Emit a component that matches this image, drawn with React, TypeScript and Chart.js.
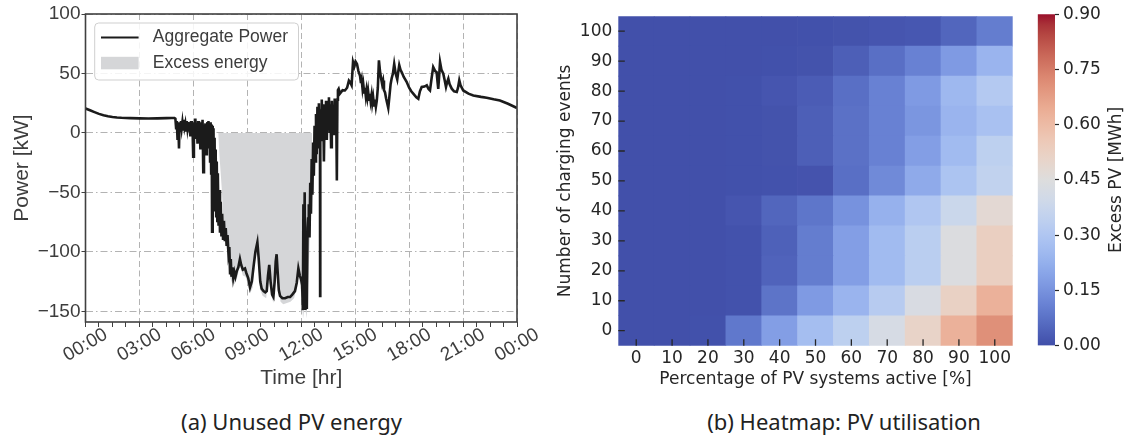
import React, { useEffect, useRef } from 'react';
import { Chart, registerables } from 'chart.js';

Chart.register(...registerables);

// ================= (a) Unused PV energy =================
const hourTicks = [0, 3, 6, 9, 12, 15, 18, 21, 24];
const hourLabels = ['00:00', '03:00', '06:00', '09:00', '12:00', '15:00', '18:00', '21:00', '00:00'];
const minorHourTicks = [0, 0.75, 1.5, 2.25, 3, 3.75, 4.5, 5.25, 6, 6.75, 7.5, 8.25, 9, 9.75, 10.5, 11.25, 12,
  12.75, 13.5, 14.25, 15, 15.75, 16.5, 17.25, 18, 18.75, 19.5, 20.25, 21, 21.75, 22.5, 23.25, 24];
const powerTicks = [-150, -100, -50, 0, 50, 100];

// Aggregate power [kW] against time [h], read segment by segment as [hour, kW]
const powerNight: [number, number][] = [
  [0, 20.5], [0.25, 19], [0.5, 17.5], [0.75, 16], [1, 14.8], [1.25, 14], [1.5, 13.4], [1.75, 13], [2, 12.7],
  [2.5, 12.4], [3, 12.2], [3.5, 12.1], [4, 12.2], [4.5, 12.4], [4.8, 12.6], [4.95, 12.5],
];
const powerDawn: [number, number][] = [
  [5.0, 12], [5.04, 4], [5.08, 10], [5.12, -6], [5.16, 9], [5.2, -13], [5.23, 8], [5.27, 2], [5.31, 10], [5.35, 4],
  [5.39, 9], [5.43, 3], [5.47, 11], [5.51, 5], [5.55, 8], [5.59, 2], [5.63, 10], [5.67, 4], [5.71, 9], [5.75, 1],
  [5.79, 8], [5.83, -3], [5.87, 10], [5.91, 2], [5.95, 7], [5.99, -20], [6.03, 9], [6.07, 0], [6.11, 12], [6.15, -4],
  [6.19, 8], [6.23, -9], [6.27, 10], [6.31, -2], [6.35, 6], [6.39, -14], [6.43, 9], [6.47, -6], [6.51, 11], [6.55, -33],
  [6.59, 7], [6.63, -10], [6.67, 8], [6.71, -18], [6.75, 5],
];
const powerDrop: [number, number][] = [
  [6.78, 9], [6.81, -2], [6.84, 10], [6.87, -12], [6.9, 8], [6.93, -24], [6.96, 9], [6.99, -34], [7.02, 7], [7.04, -83],
  [7.06, 6], [7.09, -46], [7.12, 4], [7.15, -60], [7.18, -4], [7.21, -65], [7.24, -14], [7.27, -70], [7.3, -24],
  [7.33, -74], [7.36, -34], [7.4, -78], [7.44, -48], [7.48, -84], [7.52, -58], [7.56, -87], [7.6, -68], [7.65, -89],
  [7.7, -74], [7.75, -91], [7.8, -80], [7.85, -95], [7.9, -86], [7.95, -101], [8.0, -96], [8.04, -118], [8.08, -106],
  [8.12, -121], [8.17, -113], [8.22, -122], [8.28, -117], [8.34, -121], [8.42, -116], [8.5, -113],
];
const powerMidday: [number, number][] = [
  [8.59, -106], [8.66, -111], [8.75, -115], [8.87, -114], [8.95, -118], [9.05, -122], [9.15, -130], [9.25, -125],
  [9.35, -112], [9.45, -100], [9.56, -92], [9.63, -105], [9.72, -125], [9.8, -131], [9.9, -133], [10.0, -134],
  [10.08, -133], [10.15, -120], [10.22, -111], [10.3, -126], [10.38, -136], [10.45, -138], [10.52, -125],
  [10.58, -108], [10.63, -102], [10.68, -115], [10.75, -132], [10.82, -137], [10.95, -139], [11.1, -139],
  [11.25, -138], [11.38, -138], [11.5, -136], [11.65, -133], [11.75, -126], [11.84, -114], [11.92, -120],
  [11.99, -123], [12.05, -128], [12.09, -149], [12.12, -60], [12.15, -140], [12.19, -50], [12.23, -149],
  [12.27, -85], [12.31, -148], [12.35, -80], [12.38, -72],
];
const powerRecovery: [number, number][] = [
  [12.42, -60], [12.46, -88], [12.5, -42], [12.54, -68], [12.58, -22], [12.62, -52], [12.66, -8], [12.7, -36],
  [12.74, 6], [12.78, -24], [12.82, 16], [12.86, -18], [12.9, 22], [12.94, -12], [12.98, 25], [13.02, -4],
  [13.04, 20], [13.05, -137], [13.06, 18], [13.1, -6], [13.14, 28], [13.18, 2], [13.22, 24], [13.26, -24],
  [13.3, 21], [13.34, 4], [13.38, 27], [13.42, -6], [13.46, 25], [13.5, 8], [13.54, 30], [13.58, 0], [13.62, 24],
  [13.66, -12], [13.7, 27], [13.74, 6], [13.78, 23], [13.82, -2], [13.86, 29], [13.9, 8], [13.94, 26],
  [13.98, -40], [14.01, 28], [14.04, 36],
];
const powerAfternoon: [number, number][] = [
  [14.08, 37], [14.15, 33], [14.3, 36], [14.43, 35.7], [14.55, 38], [14.65, 44], [14.71, 42.8], [14.8, 40],
  [14.88, 59.6], [14.95, 56], [15.02, 60], [15.1, 58], [15.18, 52], [15.27, 48], [15.32, 42], [15.36, 45],
  [15.41, 37], [15.45, 41], [15.5, 34], [15.54, 38], [15.59, 31], [15.63, 36], [15.68, 30], [15.72, 35],
  [15.77, 28], [15.82, 33], [15.86, 27], [15.91, 32], [15.95, 25], [16.0, 30], [16.05, 23], [16.1, 28],
  [16.15, 22], [16.2, 27], [16.26, 38], [16.32, 61], [16.38, 52], [16.44, 46], [16.5, 41], [16.55, 44],
  [16.6, 36], [16.66, 34], [16.72, 29], [16.78, 25], [16.84, 21], [16.9, 30], [16.97, 41], [17.03, 46],
  [17.1, 50], [17.17, 58], [17.25, 50], [17.34, 45], [17.4, 52], [17.45, 57], [17.52, 53], [17.59, 51],
  [17.7, 47], [17.86, 43], [18.0, 38], [18.12, 35], [18.23, 33], [18.4, 30], [18.51, 28.8], [18.6, 35],
  [18.7, 38.6], [18.85, 39], [18.98, 40], [19.08, 37], [19.16, 35.7], [19.25, 46], [19.34, 55.4], [19.45, 52],
  [19.53, 51], [19.58, 43], [19.62, 37], [19.67, 48], [19.72, 59.6], [19.8, 53], [19.9, 49.8], [19.98, 44],
  [20.05, 38.6], [20.12, 43], [20.18, 45.6], [20.25, 41], [20.37, 37.2], [20.5, 35], [20.65, 34.4], [20.72, 38],
  [20.79, 44.2], [20.86, 40], [21.01, 35.7], [21.3, 33], [21.57, 31.5], [22.0, 30.3], [22.31, 29.6], [22.7, 28.3],
  [23.05, 27.3], [23.5, 24.5], [24.0, 21],
];
// Excess PV energy (lower envelope of the grey area) [hour, kW]
const excessEnergy: [number, number][] = [
  [7.38, 0], [7.45, -19], [7.58, -47], [7.66, -72], [7.78, -92], [7.9, -100], [8.0, -108], [8.05, -122],
  [8.15, -126], [8.3, -127], [8.45, -121], [8.59, -111], [8.75, -120], [8.9, -121], [9.05, -128], [9.15, -135],
  [9.3, -130], [9.45, -106], [9.56, -97], [9.7, -131], [9.85, -137], [10.05, -139], [10.15, -124], [10.22, -116],
  [10.35, -138], [10.45, -143], [10.55, -128], [10.63, -107], [10.72, -130], [10.85, -142], [11.0, -144],
  [11.2, -143], [11.4, -142], [11.6, -139], [11.75, -130], [11.84, -120], [11.95, -128], [12.1, -156],
  [12.2, -145], [12.3, -156], [12.4, -120], [12.5, -80], [12.56, -45], [12.6, -10], [12.6, 0],
];

// ================= (b) Heatmap: PV utilisation =================
const pvShareLabels = ['0', '10', '20', '30', '40', '50', '60', '70', '80', '90', '100'];
const chargingEvents = [0, 10, 20, 30, 40, 50, 60, 70, 80, 90, 100];
const colorbarTicks = [0, 0.15, 0.3, 0.45, 0.6, 0.75, 0.9];
const CMAX = 0.9;
// Excess PV [MWh] per number of charging events, across PV share 0..100 %
const excessEv0 = [0.005, 0.005, 0.006, 0.09, 0.18, 0.27, 0.34, 0.42, 0.51, 0.63, 0.71];
const excessEv10 = [0.005, 0.005, 0.005, 0.008, 0.08, 0.17, 0.24, 0.32, 0.43, 0.52, 0.63];
const excessEv20 = [0.005, 0.005, 0.005, 0.008, 0.045, 0.1, 0.18, 0.26, 0.33, 0.44, 0.53];
const excessEv30 = [0.005, 0.005, 0.005, 0.008, 0.04, 0.1, 0.18, 0.26, 0.33, 0.44, 0.53];
const excessEv40 = [0.005, 0.005, 0.005, 0.015, 0.05, 0.085, 0.15, 0.23, 0.3, 0.38, 0.48];
const excessEv50 = [0.005, 0.005, 0.005, 0.006, 0.008, 0.012, 0.07, 0.13, 0.21, 0.29, 0.35];
const excessEv60 = [0.005, 0.005, 0.005, 0.006, 0.01, 0.035, 0.075, 0.11, 0.18, 0.26, 0.34];
const excessEv70 = [0.005, 0.005, 0.005, 0.006, 0.01, 0.035, 0.075, 0.11, 0.16, 0.24, 0.28];
const excessEv80 = [0.005, 0.005, 0.005, 0.006, 0.015, 0.03, 0.07, 0.11, 0.17, 0.25, 0.31];
const excessEv90 = [0.005, 0.005, 0.005, 0.005, 0.006, 0.01, 0.035, 0.07, 0.11, 0.17, 0.24];
const excessEv100 = [0.005, 0.005, 0.005, 0.005, 0.005, 0.006, 0.01, 0.015, 0.02, 0.05, 0.1];
const excessRows = [excessEv0, excessEv10, excessEv20, excessEv30, excessEv40, excessEv50,
  excessEv60, excessEv70, excessEv80, excessEv90, excessEv100];

// coolwarm colormap anchors
const COOLWARM = [
  [59, 76, 192], [68, 90, 204], [77, 104, 215], [87, 117, 225], [98, 130, 234], [108, 142, 241], [119, 154, 247],
  [130, 165, 251], [141, 176, 254], [152, 185, 255], [163, 194, 255], [174, 201, 253], [184, 208, 249],
  [194, 213, 244], [204, 217, 238], [213, 219, 230], [221, 221, 221], [229, 216, 209], [236, 211, 197],
  [241, 204, 185], [245, 196, 173], [247, 187, 160], [247, 177, 148], [247, 166, 135], [244, 154, 123],
  [241, 141, 111], [236, 127, 99], [229, 112, 88], [222, 96, 77], [213, 80, 66], [203, 62, 56], [192, 40, 47],
  [180, 4, 38],
];

function cmap(t: number): string {
  const tt = Math.min(1, Math.max(0, t));
  const n = COOLWARM.length - 1;
  const f = tt * n;
  const i = Math.min(n - 1, Math.floor(f));
  const u = f - i;
  const a = COOLWARM[i];
  const b = COOLWARM[i + 1];
  let r = a[0] + (b[0] - a[0]) * u;
  let g = a[1] + (b[1] - a[1]) * u;
  let bl = a[2] + (b[2] - a[2]) * u;
  const lum = 0.3 * r + 0.59 * g + 0.11 * bl;
  const k = 0.22;
  r = r * (1 - k) + lum * k;
  g = g * (1 - k) + lum * k;
  bl = bl * (1 - k) + lum * k;
  return `rgb(${Math.round(r)},${Math.round(g)},${Math.round(bl)})`;
}

const FONT_A = '"Liberation Sans", Arial, Helvetica, sans-serif';
const FONT_B = '"DejaVu Sans", sans-serif';
const TXT_A = '#3d3d3d';
const TXT_B = '#262626';
const GRID_A = '#b3b3b3';

const isMajorHour = (v: number | undefined) =>
  v !== undefined && Math.abs(v / 3 - Math.round(v / 3)) < 1e-6;

const framePlugin = {
  id: 'frame',
  afterDatasetsDraw(chart: any) {
    const { ctx, chartArea: a } = chart;
    ctx.save();
    ctx.strokeStyle = '#404040';
    ctx.lineWidth = 1.6;
    ctx.strokeRect(a.left, a.top, a.right - a.left, a.bottom - a.top);
    ctx.restore();
  },
};

const timeLabelPlugin = {
  id: 'timeLabels',
  afterDraw(chart: any) {
    const { ctx, chartArea, scales } = chart;
    ctx.save();
    ctx.font = `19px ${FONT_A}`;
    ctx.fillStyle = TXT_A;
    ctx.textAlign = 'center';
    ctx.textBaseline = 'middle';
    hourTicks.forEach((h, i) => {
      const px = scales.x.getPixelForValue(h);
      ctx.save();
      ctx.translate(px, chartArea.bottom + 23);
      ctx.rotate(-Math.PI / 6);
      ctx.fillText(hourLabels[i], 0, 0);
      ctx.restore();
    });
    ctx.restore();
  },
};

const legendPlugin = {
  id: 'insideLegend',
  afterDraw(chart: any) {
    const { ctx } = chart;
    const [lineDs, fillDs] = chart.data.datasets;
    ctx.save();
    ctx.beginPath();
    ctx.roundRect(94.7, 23, 203.8, 57, 4);
    ctx.fillStyle = 'rgba(255,255,255,0.85)';
    ctx.fill();
    ctx.strokeStyle = '#cfcfcf';
    ctx.lineWidth = 1;
    ctx.stroke();
    ctx.strokeStyle = lineDs.borderColor;
    ctx.lineWidth = 2.2;
    ctx.beginPath();
    ctx.moveTo(101, 37.5);
    ctx.lineTo(138.6, 37.5);
    ctx.stroke();
    ctx.fillStyle = fillDs.backgroundColor;
    ctx.fillRect(101, 56.8, 37.6, 12.5);
    ctx.font = `17.5px ${FONT_A}`;
    ctx.fillStyle = TXT_A;
    ctx.textAlign = 'left';
    ctx.textBaseline = 'middle';
    ctx.fillText(lineDs.label, 152.8, 37.5);
    ctx.fillText(fillDs.label, 152.8, 63);
    ctx.restore();
  },
};

const innerTicksPlugin = {
  id: 'innerTicks',
  afterDatasetsDraw(chart: any) {
    const { ctx, chartArea: a, scales } = chart;
    ctx.save();
    ctx.strokeStyle = TXT_B;
    ctx.lineWidth = 1.3;
    ctx.beginPath();
    scales.x.ticks.forEach((_t: any, i: number) => {
      const x = scales.x.getPixelForTick(i);
      ctx.moveTo(x, a.bottom);
      ctx.lineTo(x, a.bottom - 6.5);
    });
    scales.y.ticks.forEach((t: any) => {
      const y = scales.y.getPixelForValue(t.value);
      ctx.moveTo(a.left, y);
      ctx.lineTo(a.left + 6.5, y);
    });
    ctx.stroke();
    ctx.restore();
  },
};

const colorbarTitlePlugin = {
  id: 'cbTitle',
  afterDraw(chart: any) {
    const { ctx, chartArea: a } = chart;
    ctx.save();
    ctx.font = `17px ${FONT_B}`;
    ctx.fillStyle = TXT_B;
    ctx.textAlign = 'center';
    ctx.textBaseline = 'middle';
    ctx.translate(87, (a.top + a.bottom) / 2);
    ctx.rotate(-Math.PI / 2);
    ctx.fillText('Excess PV [MWh]', 0, 0);
    ctx.restore();
  },
};

export default function App() {
  const lineRef = useRef<HTMLCanvasElement | null>(null);
  const heatRef = useRef<HTMLCanvasElement | null>(null);
  const cbRef = useRef<HTMLCanvasElement | null>(null);

  useEffect(() => {
    document.body.style.margin = '0';
    const powerSeries = [...powerNight, ...powerDawn, ...powerDrop, ...powerMidday, ...powerRecovery, ...powerAfternoon]
      .map(([x, y]) => ({ x, y }));
    const excessSeries = excessEnergy.map(([x, y]) => ({ x, y }));

    const lineChart = new Chart(lineRef.current!, {
      type: 'line',
      data: {
        datasets: [
          {
            label: 'Aggregate Power', data: powerSeries, borderColor: '#1b1b1b', borderWidth: 2.6,
            pointRadius: 0, tension: 0, fill: false, order: 0,
          },
          {
            label: 'Excess energy', data: excessSeries, borderColor: 'rgba(0,0,0,0)', borderWidth: 0,
            backgroundColor: '#d5d6d8', pointRadius: 0, tension: 0, fill: 'origin', order: 1,
          },
        ],
      },
      options: {
        responsive: false, animation: false, devicePixelRatio: 1,
        layout: { padding: { left: 0, top: 14, right: 31, bottom: 0 } },
        plugins: { legend: { display: false }, tooltip: { enabled: false } },
        scales: {
          x: {
            type: 'linear', min: 0, max: 24,
            afterBuildTicks: (s: any) => { s.ticks = minorHourTicks.map((v) => ({ value: v })); },
            afterFit: (s: any) => { s.height = 78; },
            ticks: { callback: () => '', autoSkip: false, maxRotation: 0 },
            grid: {
              color: (c: any) => (isMajorHour(c.tick?.value) ? GRID_A : 'rgba(0,0,0,0)'),
              lineWidth: 1, tickColor: '#404040', tickLength: 5, tickWidth: 1, tickBorderDash: [],
            },
            border: { display: false, dash: [6, 3.5] },
            title: {
              display: true, text: 'Time [hr]', color: TXT_A,
              font: { family: FONT_A, size: 21 }, padding: { top: 0, bottom: 9.4 },
            },
          },
          y: {
            type: 'linear', min: -159, max: 100,
            afterBuildTicks: (s: any) => { s.ticks = powerTicks.map((v) => ({ value: v })); },
            afterFit: (s: any) => { s.width = 85.5; },
            ticks: {
              callback: (v: any) => (v < 0 ? '\u2212' + Math.abs(v) : String(v)),
              font: { family: FONT_A, size: 19 }, color: TXT_A, padding: 1,
            },
            grid: { color: GRID_A, lineWidth: 1, tickColor: '#404040', tickLength: 4, tickBorderDash: [] },
            border: { display: false, dash: [7, 3, 1.5, 3] },
            title: {
              display: true, text: 'Power [kW]', color: TXT_A,
              font: { family: FONT_A, size: 21 }, padding: { top: 10, bottom: 0 },
            },
          },
        },
      },
      plugins: [framePlugin, timeLabelPlugin, legendPlugin],
    } as any);

    const heatChart = new Chart(heatRef.current!, {
      type: 'bar',
      data: {
        labels: pvShareLabels,
        datasets: excessRows.map((row, r) => ({
          label: String(chargingEvents[r]),
          data: row.map(() => [chargingEvents[r] - 5, chargingEvents[r] + 5]),
          backgroundColor: row.map((v) => cmap(v / CMAX)),
          borderWidth: 0,
          barPercentage: 1,
          categoryPercentage: 1,
        })),
      },
      options: {
        responsive: false, animation: false, devicePixelRatio: 1,
        layout: { padding: { left: 0, top: 14, right: 17.3, bottom: 0 } },
        plugins: { legend: { display: false }, tooltip: { enabled: false } },
        scales: {
          x: {
            stacked: true,
            afterFit: (s: any) => { s.height = 54.3; },
            grid: { display: false, drawTicks: false },
            border: { display: false },
            ticks: { font: { family: FONT_B, size: 17 }, color: TXT_B, padding: 3, maxRotation: 0, autoSkip: false },
            title: {
              display: true, text: 'Percentage of PV systems active [%]', color: TXT_B,
              font: { family: FONT_B, size: 17 }, padding: { top: 0, bottom: 9.8 },
            },
          },
          y: {
            type: 'linear', min: -5, max: 105,
            afterBuildTicks: (s: any) => { s.ticks = chargingEvents.map((v) => ({ value: v })); },
            afterFit: (s: any) => { s.width = 70.3; },
            grid: { display: false, drawTicks: false },
            border: { display: false },
            ticks: { font: { family: FONT_B, size: 17 }, color: TXT_B, padding: 6 },
            title: {
              display: true, text: 'Number of charging events', color: TXT_B,
              font: { family: FONT_B, size: 17 }, padding: { top: 7.8, bottom: 0 },
            },
          },
        },
      },
      plugins: [innerTicksPlugin],
    } as any);

    const cbChart = new Chart(cbRef.current!, {
      type: 'bar',
      data: {
        labels: [''],
        datasets: [{
          label: 'Excess PV [MWh]',
          data: [[0, CMAX]],
          backgroundColor: (c: any) => {
            const chart = c.chart;
            const y = chart.scales?.y;
            if (!chart.chartArea || !y) return cmap(0.5);
            const g = chart.ctx.createLinearGradient(0, y.getPixelForValue(0), 0, y.getPixelForValue(CMAX));
            for (let i = 0; i <= 32; i++) g.addColorStop(i / 32, cmap(i / 32));
            return g;
          },
          borderWidth: 0,
          barPercentage: 1,
          categoryPercentage: 1,
        }],
      },
      options: {
        responsive: false, animation: false, devicePixelRatio: 1,
        layout: { padding: { left: 7.7, top: 14, right: 0, bottom: 54.3 } },
        plugins: { legend: { display: false }, tooltip: { enabled: false } },
        scales: {
          x: { display: false },
          y: {
            type: 'linear', position: 'right', min: 0, max: CMAX,
            afterBuildTicks: (s: any) => { s.ticks = colorbarTicks.map((v) => ({ value: v })); },
            afterFit: (s: any) => { s.width = 72; },
            grid: { drawOnChartArea: false, drawTicks: true, tickLength: 4, tickColor: TXT_B, tickWidth: 1.2 },
            border: { display: false },
            ticks: {
              callback: (v: any) => Number(v).toFixed(2),
              font: { family: FONT_B, size: 17 }, color: TXT_B, padding: 4,
            },
          },
        },
      },
      plugins: [colorbarTitlePlugin],
    } as any);

    return () => {
      lineChart.destroy();
      heatChart.destroy();
      cbChart.destroy();
    };
  }, []);

  const caption: React.CSSProperties = {
    position: 'absolute', top: 406, width: 400, textAlign: 'center',
    fontFamily: '"Noto Sans", "Open Sans", sans-serif', fontSize: 22, lineHeight: '30px', color: '#222',
  };

  return (
    <div style={{ position: 'relative', width: 1127, height: 442, background: '#fff', overflow: 'hidden' }}>
      <canvas ref={lineRef} width={548} height={400} style={{ position: 'absolute', left: 0, top: 0 }} />
      <canvas ref={heatRef} width={482} height={400} style={{ position: 'absolute', left: 548, top: 0 }} />
      <canvas ref={cbRef} width={97} height={400} style={{ position: 'absolute', left: 1030, top: 0 }} />
      <div style={{ ...caption, left: 291.6 - 200 }}>(a) Unused PV energy</div>
      <div style={{ ...caption, left: 844 - 200 }}>(b) Heatmap: PV utilisation</div>
    </div>
  );
}
